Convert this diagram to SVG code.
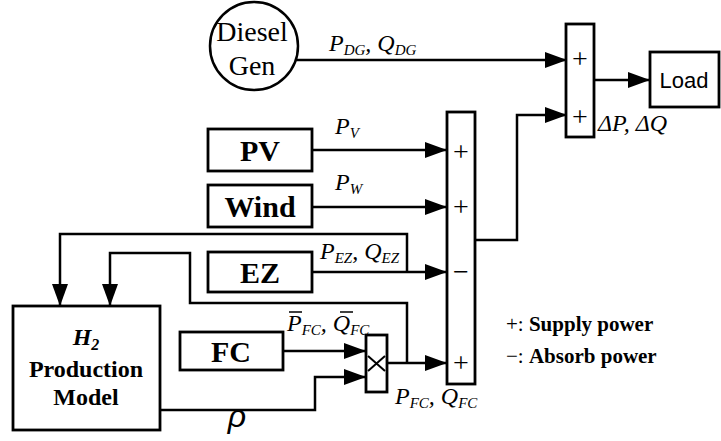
<svg xmlns="http://www.w3.org/2000/svg" width="721" height="441" viewBox="0 0 721 441">
<style>
.box{fill:#fff;stroke:#000;stroke-width:2.8}
.ln{fill:none;stroke:#000;stroke-width:2.5}
.arr{marker-end:url(#ah)}
text{font-family:"Liberation Serif","Times New Roman","DejaVu Serif",serif}
.bl{font-weight:bold;font-size:30px;text-anchor:middle}
.rg{font-size:28px;text-anchor:middle}
.it{font-style:italic;font-size:24px}
.sub{font-size:15px}
.sg{font-size:28px;text-anchor:middle}
.lg{font-weight:bold;font-size:21px}
</style>
<defs>
<marker id="ah" markerUnits="userSpaceOnUse" markerWidth="24" markerHeight="16" refX="22" refY="8" orient="auto">
<path d="M0,0 L22,8 L0,16 Z" fill="#000"/>
</marker>
</defs>
<rect width="721" height="441" fill="#fff"/>
<g id="connectors">
<path class="ln arr" d="M296,60 H567"/>
<path class="ln arr" d="M594,80 H650"/>
<path class="ln arr" d="M475,240 H517 V115 H567"/>
<path class="ln arr" d="M312,150 H447"/>
<path class="ln arr" d="M312,207 H447"/>
<path class="ln arr" d="M312,272 H447"/>
<path class="ln arr" d="M407,272 V234 H60 V306"/>
<path class="ln arr" d="M407,363 V303 H190 V253 H110 V306"/>
<path class="ln arr" d="M283,351 H366"/>
<path class="ln arr" d="M160,410 H315 V377 H366"/>
<path class="ln arr" d="M387,363 H447"/>
</g>
<g id="diesel">
<circle cx="254" cy="46" r="44" fill="#fff" stroke="#000" stroke-width="2.5"/>
<text class="rg" x="252" y="41">Diesel</text>
<text class="rg" x="252" y="75">Gen</text>
</g>
<g id="sum_top">
<rect class="box" x="566" y="24" width="28" height="113"/>
<text class="sg" x="580" y="68">+</text>
<text class="sg" x="580" y="126">+</text>
</g>
<g id="load">
<rect class="box" x="650" y="52" width="69" height="55"/>
<text x="684" y="88" style="font-family:'Liberation Sans',Arial,sans-serif" font-size="22" text-anchor="middle">Load</text>
</g>
<g id="sum_main">
<rect class="box" x="447" y="112" width="28" height="272"/>
<text class="sg" x="461" y="161">+</text>
<text class="sg" x="461" y="216">+</text>
<text class="sg" x="461" y="281">−</text>
<text class="sg" x="461" y="372">+</text>
</g>
<g id="pv">
<rect class="box" x="208" y="129" width="104" height="42"/>
<text class="bl" x="260" y="161">PV</text>
</g>
<g id="wind">
<rect class="box" x="208" y="185" width="104" height="42"/>
<text class="bl" x="260" y="217">Wind</text>
</g>
<g id="ez">
<rect class="box" x="208" y="252" width="104" height="40"/>
<text class="bl" x="260" y="283">EZ</text>
</g>
<g id="fc">
<rect class="box" x="180" y="332" width="103" height="38"/>
<text class="bl" x="231" y="362">FC</text>
</g>
<g id="h2model">
<rect class="box" x="13" y="306" width="147" height="124"/>
<text x="86" y="345" font-weight="bold" font-style="italic" font-size="24" text-anchor="middle">H<tspan font-size="16" dy="5">2</tspan></text>
<text x="86" y="377" font-weight="bold" font-size="24" text-anchor="middle">Production</text>
<text x="86" y="405" font-weight="bold" font-size="24" text-anchor="middle">Model</text>
</g>
<g id="multiplier">
<rect class="box" x="366" y="335" width="21" height="57"/>
<path d="M368,356 L385,371 M368,371 L385,356" stroke="#000" stroke-width="2" fill="none"/>
</g>
<g id="labels">
<text class="it" x="329" y="51">P<tspan class="sub" dy="4">DG</tspan><tspan dy="-4">, Q</tspan><tspan class="sub" dy="4">DG</tspan></text>
<text class="it" x="335" y="134">P<tspan class="sub" dy="4">V</tspan></text>
<text class="it" x="335" y="190">P<tspan class="sub" dy="4">W</tspan></text>
<text class="it" x="320" y="259">P<tspan class="sub" dy="4">EZ</tspan><tspan dy="-4">, Q</tspan><tspan class="sub" dy="4">EZ</tspan></text>
<text class="it" x="287" y="331">P<tspan class="sub" dy="4">FC</tspan><tspan dy="-4">, Q</tspan><tspan class="sub" dy="4">FC</tspan></text>
<path d="M289,312 H302 M340,312 H353" stroke="#000" stroke-width="1.5"/>
<text class="it" x="395" y="404">P<tspan class="sub" dy="4">FC</tspan><tspan dy="-4">, Q</tspan><tspan class="sub" dy="4">FC</tspan></text>
<text class="it" x="598" y="131">ΔP, ΔQ</text>
<text x="237" y="427" style="font-family:'Liberation Sans',Arial,sans-serif" font-style="italic" font-size="32" text-anchor="middle">ρ</text>
<text class="lg" x="506" y="331"><tspan font-weight="normal">+: </tspan>Supply power</text>
<text class="lg" x="506" y="363"><tspan font-weight="normal">−: </tspan>Absorb power</text>
</g>
</svg>
